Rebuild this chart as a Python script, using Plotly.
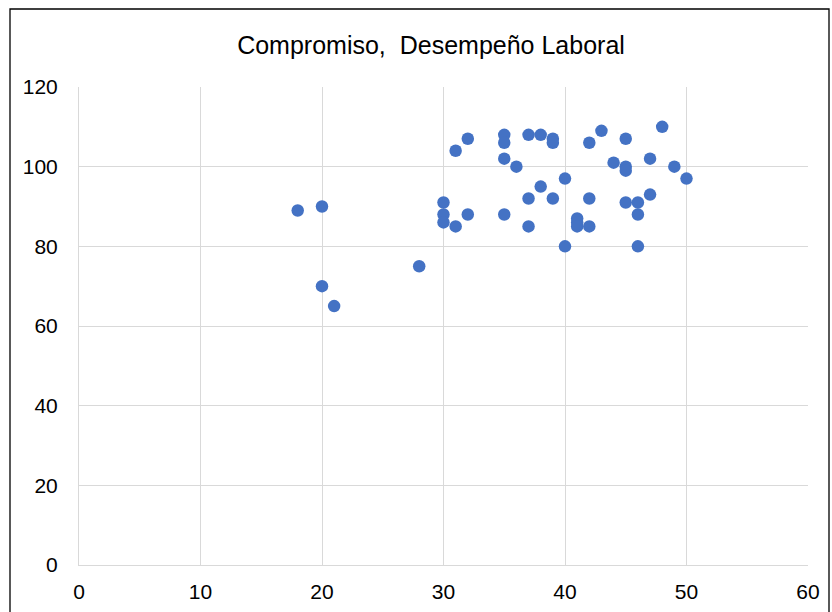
import plotly.graph_objects as go

compromiso = [18, 20, 20, 21, 28, 30, 30, 30, 31, 31, 32, 32, 35, 35, 35, 35, 36, 37, 37, 37,
              38, 38, 39, 39, 39, 40, 40, 41, 41, 41, 42, 42, 42, 43, 44, 45, 45, 45, 45,
              46, 46, 46, 47, 47, 48, 49, 50]
desempeno = [89, 90, 70, 65, 75, 91, 88, 86, 85, 104, 107, 88, 108, 106, 102, 88, 100, 108, 92, 85,
             108, 95, 107, 106, 92, 97, 80, 87, 86, 85, 106, 92, 85, 109, 101, 107, 100, 99, 91,
             91, 88, 80, 102, 93, 110, 100, 97]

title_text = "Compromiso,  Desempeño Laboral"

fig = go.Figure()
fig.add_trace(go.Scatter(
    x=compromiso, y=desempeno, mode="markers",
    marker=dict(color="#4472C4", size=12.5, line=dict(width=0)),
    showlegend=False,
))

W, H = 832, 612
L, R, T, B = 79, 24, 87, 47
pw, ph = W - L - R, H - T - B

def px_x(p):
    return (p - L) / pw

def px_y(p):
    return (H - B - p) / ph

fig.add_shape(type="path", xref="paper", yref="paper",
              path=f"M {px_x(10)} {px_y(640)} L {px_x(10)} {px_y(9)} L {px_x(829)} {px_y(9)} L {px_x(829)} {px_y(640)}",
              line=dict(color="#000000", width=1.3), layer="above")

fig.update_layout(
    width=W, height=H,
    margin=dict(l=L, r=R, t=T, b=B, autoexpand=False),
    paper_bgcolor="white", plot_bgcolor="white",
    font=dict(family="Liberation Sans, Arial", size=21, color="#000000"),
    title=dict(text=title_text, x=431 / W, xanchor="center", y=1 - 45 / H, yanchor="middle",
               font=dict(size=25, color="#000000")),
    xaxis=dict(range=[0, 60], dtick=10, tick0=0, showgrid=True, gridcolor="#D9D9D9", gridwidth=1,
               zeroline=False, showline=True, linecolor="#D9D9D9", linewidth=1, automargin=False,
               ticks="", ticklabelstandoff=8, fixedrange=True),
    yaxis=dict(range=[0, 120], dtick=20, tick0=0, showgrid=True, gridcolor="#D9D9D9", gridwidth=1,
               zeroline=False, showline=True, linecolor="#D9D9D9", linewidth=1, automargin=False,
               ticks="", ticklabelstandoff=16, fixedrange=True),
)

fig.write_html("out.html")
